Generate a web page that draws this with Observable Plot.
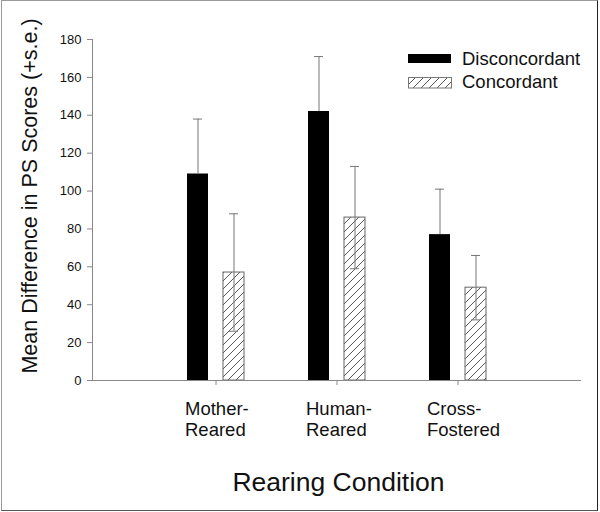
<!DOCTYPE html>
<html>
<head>
<meta charset="utf-8">
<script src="https://cdn.jsdelivr.net/npm/d3@7"></script>
<script src="https://cdn.jsdelivr.net/npm/@observablehq/plot@0.6"></script>
<style>
  body { margin: 0; background: #fff; font-family: "Liberation Sans", Arial, Helvetica, sans-serif; }
  #wrap { position: relative; width: 600px; height: 512px; overflow: hidden; background: #fff; }
  #wrap > svg.plot { position: absolute; left: 0; top: 0; }
  .border { position: absolute; left: 1px; top: 0px; width: 595px; height: 509px;
            border: 1px solid #9a9a9a; border-right-color: #222; border-bottom-color: #555; pointer-events: none; }
  .txt { position: absolute; white-space: nowrap; line-height: 1; color: #111; }
  .ylab { font-size: 21.5px; left: 31px; top: 195.5px; transform: translate(-50%, -50%) rotate(-90deg); }
  .xlab { font-size: 26.5px; left: 338.5px; top: 468.5px; transform: translateX(-50%); }
  .leg { font-size: 18.5px; left: 462px; }
  .sw { position: absolute; left: 408px; }
</style>
</head>
<body>
<svg width="0" height="0" style="position:absolute">
  <defs>
    <pattern id="hatch" patternUnits="userSpaceOnUse" width="8" height="8">
      <rect width="8" height="8" fill="#fff"></rect>
      <path d="M-2,2 L2,-2 M0,8 L8,0 M6,10 L10,6" stroke="#444" stroke-width="0.9"></path>
    </pattern>
  </defs>
</svg>
<div id="wrap">
  <div class="txt ylab">Mean Difference in PS Scores (+s.e.)</div>
  <div class="txt xlab">Rearing Condition</div>
  <div class="sw" style="top:54px;width:43px;height:9px;background:#000;"></div>
  <svg class="sw" style="top:77px" width="44" height="12"><rect x="0.5" y="0.5" width="43" height="10.5" fill="url(#hatch)" stroke="#777" stroke-width="1"></rect></svg>
  <div class="txt leg" style="top:50px">Disconcordant</div>
  <div class="txt leg" style="top:73px">Concordant</div>
  <div class="border"></div>
</div>
<script>
const categories = ["Mother-Reared", "Human-Reared", "Cross-Fostered"];
const disconcordant = [109, 142, 77];
const disconcordantSE = [29, 29, 24];
const concordant = [57, 86, 49];
const concordantSE = [31, 27, 17];
const yTicks = [0, 20, 40, 60, 80, 100, 120, 140, 160, 180];

const rows = categories.map((c, i) => ({
  category: c,
  disc: disconcordant[i], discSE: disconcordantSE[i],
  conc: concordant[i], concSE: concordantSE[i]
}));

const errColor = "#777";
const axisColor = "#888";

const plot = Plot.plot({
  width: 600,
  height: 512,
  marginLeft: 92,
  marginRight: 19,
  marginTop: 39,
  marginBottom: 132,
  style: { fontFamily: "'Liberation Sans', Arial, Helvetica, sans-serif", background: "transparent", color: "#111" },
  x: { type: "band", domain: categories, paddingInner: 0.525, paddingOuter: 0.7667, label: null },
  y: { domain: [0, 180], label: null },
  marks: [
    Plot.barY(rows, { x: "category", y: "disc", fill: "#000", insetRight: 36 }),
    Plot.barY(rows, { x: "category", y: "conc", fill: "url(#hatch)", stroke: "#666", strokeWidth: 1, insetLeft: 36 }),
    Plot.ruleX(rows, { x: "category", y1: "disc", y2: d => d.disc + d.discSE, dx: -18, stroke: errColor }),
    Plot.tickY(rows, { x: "category", y: d => d.disc + d.discSE, insetLeft: 6, insetRight: 42, stroke: errColor }),
    Plot.ruleX(rows, { x: "category", y1: d => d.conc - d.concSE, y2: d => d.conc + d.concSE, dx: 18, stroke: errColor }),
    Plot.tickY(rows, { x: "category", y: d => d.conc + d.concSE, insetLeft: 42, insetRight: 6, stroke: errColor }),
    Plot.tickY(rows, { x: "category", y: d => d.conc - d.concSE, insetLeft: 42, insetRight: 6, stroke: errColor }),
    Plot.ruleY([0], { stroke: axisColor }),
    Plot.frame({ anchor: "left", stroke: axisColor }),
    Plot.axisY({ ticks: yTicks, tickSize: 5, tickPadding: 6, fontSize: 13, stroke: axisColor, fill: "#111", label: null }),
    Plot.axisX({ tickSize: 5, tickFormat: () => "", stroke: axisColor, label: null }),
    Plot.axisX({ tickSize: 0, tickPadding: 19, tickFormat: d => d.replace("-", "-\n"), fontSize: 18.5, lineHeight: 1.15,
                 textAnchor: "start", dx: -31, fill: "#111", label: null })
  ]
});
plot.classList.add("plot");
document.getElementById("wrap").prepend(plot);
</script>
</body>
</html>
